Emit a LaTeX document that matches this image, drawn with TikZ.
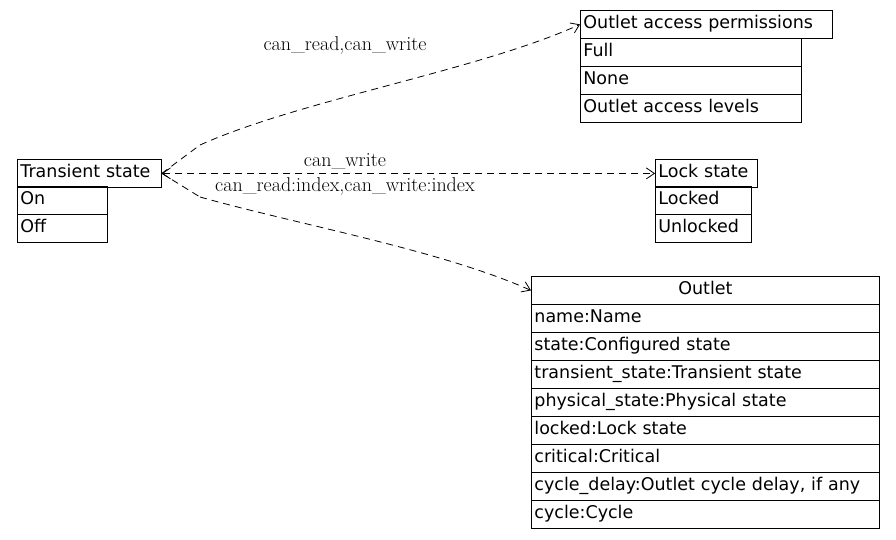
\documentclass[tikz,border=0pt]{standalone}
\usepackage{fontspec}
\newfontfamily\dejavu{DejaVu Sans}
\usetikzlibrary{positioning}
\usetikzlibrary{calc}
\usetikzlibrary{arrows.meta}
\begin{document}
\begin{tikzpicture}[x=1pt,y=-1pt,>={Straight Barb[length=8pt,width=11pt]}]
	\tikzset{cell/.style = {shape=rectangle, draw, thick, anchor=north west, inner sep=3pt,
			minimum height=28pt, text height=13pt, text depth=4pt, font=\dejavu\fontsize{17.5}{20}\selectfont},
		lcell/.style = {cell, align=left},
		link/.style = {dashed, thick, dash pattern=on 7pt off 5pt},
		lbl/.style = {font=\fontsize{20}{22}\selectfont}}
	\useasboundingbox (0,0) rectangle (896,539);
	
	% Transient state
	\node[lcell, text width=138pt] (TS) at (17,159) {Transient state};
	\node[lcell, text width=84pt] (TSon) at (17,186) {On};
	\node[lcell, text width=84pt] (TSoff) at (17,214) {Off};
	
	% Outlet access permissions
	\node[lcell, text width=246pt] (OAP) at (580,10) {Outlet access permissions};
	\foreach \t [count=\i from 0] in {Full,None,Outlet access levels}
		\node[lcell, text width=215pt] (OAP\i) at (580,38+28*\i) {\t};
	
	% Lock state
	\node[lcell, text width=96pt] (LS) at (655,159) {Lock state};
	\node[lcell, text width=90pt] (LSl) at (655,186) {Locked};
	\node[lcell, text width=90pt] (LSu) at (655,214) {Unlocked};
	
	% Outlet
	\node[cell, text width=342pt, align=center] (OUT) at (531,276) {Outlet};
	\foreach \t [count=\i from 0] in {name:Name,state:Configured state,transient\_state:Transient state,
		physical\_state:Physical state,locked:Lock state,critical:Critical,
		{cycle\_delay:Outlet cycle delay, if any},cycle:Cycle}
		\node[lcell, text width=342pt] (OUT\i) at (531,304+28*\i) {\t};
	
	% edges
	\coordinate (p1) at (200,145);
	\coordinate (p2) at (200,197);
	\draw[link] (TS.east) -- (p1);
	\draw[link,->] (p1) .. controls (300,100) and (480,70) .. (OAP.west);
	\draw[link,<->] (TS.east) -- (LS.west);
	\draw[link] (TS.east) -- (p2);
	\draw[link,->] (p2) .. controls (300,225) and (440,250) .. (OUT.west);
	
	\node[lbl] at (345,45) {can\_read,can\_write};
	\node[lbl] at (345,161) {can\_write};
	\node[lbl] at (345,186) {can\_read:index,can\_write:index};
\end{tikzpicture}
\end{document}
